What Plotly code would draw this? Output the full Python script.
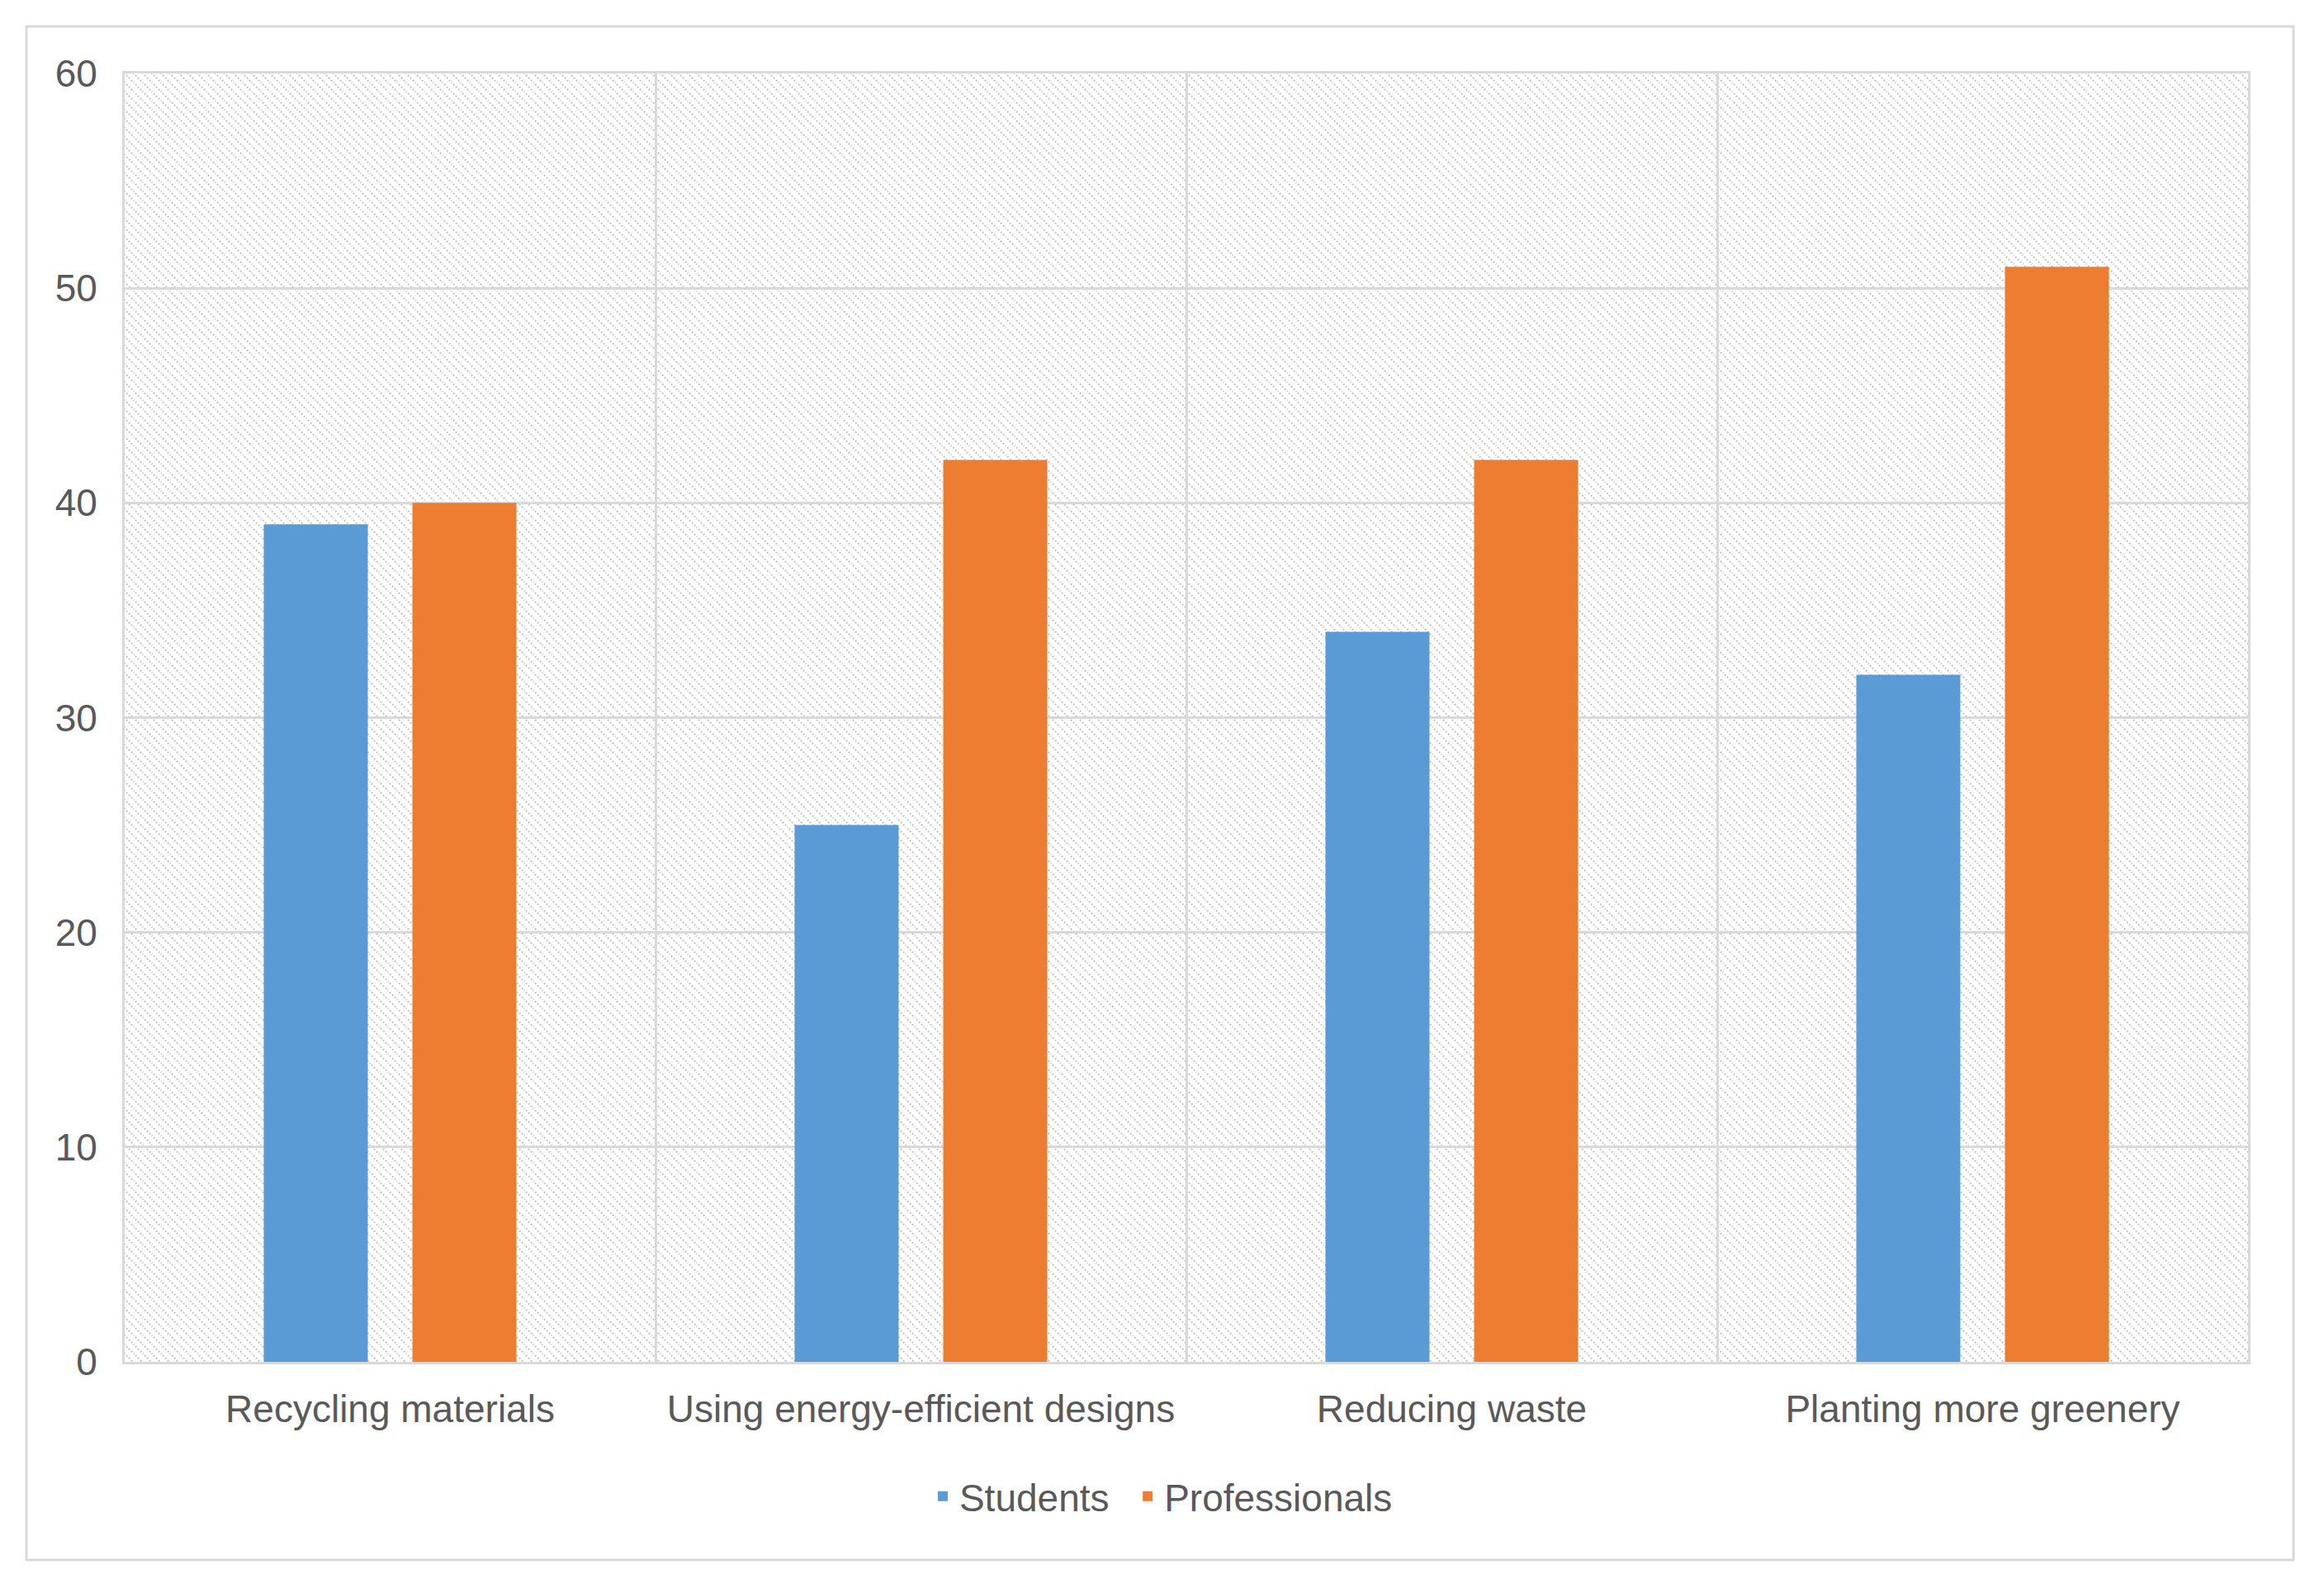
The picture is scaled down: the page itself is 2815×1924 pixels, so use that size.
import base64
import plotly.graph_objects as go

categories = ["Recycling materials", "Using energy-efficient designs", "Reducing waste", "Planting more greenery"]
students = [39, 25, 34, 32]
professionals = [40, 42, 42, 51]
y_ticks = [0, 10, 20, 30, 40, 50, 60]

# page has an 8px body margin, so the figure is sized/offset accordingly
W, H = 2807, 1916
L, T = 143, 81
PW, PH = 2572, 1561
R, B = W - L - PW, H - T - PH

FONT = "Liberation Sans, Arial, Helvetica, sans-serif"
TXT = "#595959"
GRID = "#d9d9d9"

hatch_svg = (
    f'<svg xmlns="http://www.w3.org/2000/svg" width="{PW}" height="{PH}" viewBox="0 0 {PW} {PH}">'
    '<defs><pattern id="p" width="11" height="11" patternUnits="userSpaceOnUse">'
    '<path d="M-1,-1 L12,12 M-1,10 L1,12 M10,-1 L12,1" stroke="#c2c2c2" stroke-width="2" stroke-dasharray="2,2.2"/>'
    '</pattern></defs>'
    f'<rect x="0" y="0" width="{PW}" height="{PH}" fill="white"/>'
    f'<rect x="0" y="0" width="{PW}" height="{PH}" fill="url(#p)"/></svg>'
)
hatch_uri = "data:image/svg+xml;base64," + base64.b64encode(hatch_svg.encode()).decode()

fig = go.Figure()
fig.add_trace(go.Bar(name="Students", x=categories, y=students, legend="legend",
                     marker=dict(color="#5B9BD5", line=dict(width=0))))
fig.add_trace(go.Bar(name="Professionals", x=categories, y=professionals, legend="legend2",
                     marker=dict(color="#ED7D31", line=dict(width=0))))

leg_common = dict(orientation="h", xanchor="left", y=-0.1044, yanchor="middle",
                  font=dict(size=46, color=TXT), itemwidth=30, bgcolor="rgba(0,0,0,0)")

fig.update_layout(
    width=W, height=H, autosize=False,
    margin=dict(l=L, r=R, t=T, b=B, pad=0),
    paper_bgcolor="white", plot_bgcolor="rgba(0,0,0,0)",
    barmode="group", bargap=0.44, bargroupgap=0.3,
    font=dict(family=FONT, size=46, color=TXT),
    showlegend=True,
    legend=dict(x=0.3775, **leg_common),
    legend2=dict(x=0.4740, **leg_common),
    images=[dict(source=hatch_uri, xref="paper", yref="paper", x=0, y=1, sizex=1, sizey=1,
                 sizing="stretch", xanchor="left", yanchor="top", layer="below")],
    shapes=[dict(type="rect", xref="paper", yref="paper",
                 x0=(24 - L) / PW, x1=(2770 - L) / PW,
                 y0=(T + PH - 1882) / PH, y1=(T + PH - 24) / PH,
                 line=dict(color=GRID, width=3), fillcolor="rgba(0,0,0,0)", layer="below")],
)
fig.update_xaxes(type="category", tickson="boundaries", showgrid=True, gridcolor=GRID, gridwidth=3,
                 showline=True, linecolor=GRID, linewidth=3, mirror=True, ticks="",
                 ticklabelstandoff=15, tickfont=dict(size=46, color=TXT), zeroline=False)
fig.update_yaxes(range=[0, 60], tickvals=y_ticks, showgrid=True, gridcolor=GRID, gridwidth=3,
                 showline=True, linecolor=GRID, linewidth=3, mirror=True, ticks="",
                 ticklabelstandoff=21, tickfont=dict(size=46, color=TXT), zeroline=False)

fig.write_html("out.html")
